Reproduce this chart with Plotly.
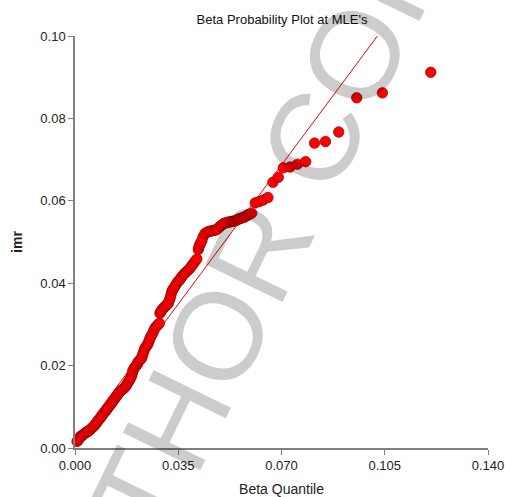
import plotly.graph_objects as go

# ---- data ----
beta_quantile = [
    0.0007, 0.0010, 0.0014, 0.0017, 0.0021, 0.0025, 0.0029, 0.0034, 0.0038, 0.0042,
    0.0046, 0.0051, 0.0055, 0.0059, 0.0063, 0.0068, 0.0072, 0.0076, 0.0080, 0.0085,
    0.0089, 0.0093, 0.0097, 0.0102, 0.0106, 0.0110, 0.0114, 0.0119, 0.0123, 0.0127,
    0.0131, 0.0136, 0.0140, 0.0144, 0.0148, 0.0152, 0.0157, 0.0162, 0.0166, 0.0171,
    0.0175, 0.0179, 0.0183, 0.0187, 0.0190, 0.0193, 0.0195, 0.0197, 0.0201, 0.0205,
    0.0209, 0.0212, 0.0214, 0.0218, 0.0222, 0.0226, 0.0228, 0.0231, 0.0234, 0.0237,
    0.0241, 0.0245, 0.0248, 0.0251, 0.0254, 0.0258, 0.0263, 0.0267, 0.0271, 0.0276,
    0.0281, 0.0286,
    0.0288, 0.0291, 0.0294, 0.0299, 0.0305, 0.0310, 0.0316, 0.0319, 0.0322, 0.0325,
    0.0328, 0.0331, 0.0335, 0.0340, 0.0345, 0.0350, 0.0356, 0.0361, 0.0367, 0.0372,
    0.0378, 0.0384, 0.0390, 0.0395, 0.0401, 0.0407, 0.0413,
    0.0418, 0.0420, 0.0423, 0.0426, 0.0430, 0.0434, 0.0440, 0.0446, 0.0452, 0.0457,
    0.0463, 0.0469, 0.0475, 0.0480, 0.0486, 0.0492, 0.0497, 0.0503, 0.0508, 0.0514,
    0.0520, 0.0525, 0.0531, 0.0537, 0.0542, 0.0548, 0.0553, 0.0559, 0.0565, 0.0571,
    0.0576, 0.0582, 0.0587, 0.0593, 0.0599,
    0.0611, 0.0624, 0.0638, 0.0654, 0.0671, 0.0689,
    0.0706, 0.0729, 0.0754, 0.0782, 0.0812, 0.0849, 0.0894,
    0.0955, 0.1042, 0.1206,
]
imr = [
    0.0016, 0.0019, 0.0022, 0.0027, 0.0029, 0.0031, 0.0033, 0.0036, 0.0038, 0.0040,
    0.0041, 0.0044, 0.0047, 0.0050, 0.0052, 0.0056, 0.0060, 0.0064, 0.0068, 0.0072,
    0.0076, 0.0080, 0.0084, 0.0088, 0.0092, 0.0096, 0.0100, 0.0104, 0.0108, 0.0112,
    0.0116, 0.0121, 0.0125, 0.0129, 0.0133, 0.0137, 0.0140, 0.0143, 0.0145, 0.0149,
    0.0153, 0.0158, 0.0163, 0.0168, 0.0172, 0.0178, 0.0184, 0.0189, 0.0194, 0.0198,
    0.0201, 0.0205, 0.0209, 0.0212, 0.0215, 0.0218, 0.0224, 0.0230, 0.0236, 0.0242,
    0.0246, 0.0250, 0.0254, 0.0260, 0.0266, 0.0272, 0.0278, 0.0285, 0.0291, 0.0295,
    0.0299, 0.0303,
    0.0327, 0.0331, 0.0335, 0.0339, 0.0343, 0.0347, 0.0351, 0.0357, 0.0363, 0.0371,
    0.0379, 0.0384, 0.0388, 0.0394, 0.0400, 0.0405, 0.0409, 0.0415, 0.0420, 0.0424,
    0.0428, 0.0432, 0.0436, 0.0442, 0.0447, 0.0453, 0.0459,
    0.0482, 0.0488, 0.0493, 0.0498, 0.0503, 0.0512, 0.0520, 0.0523, 0.0525, 0.0526,
    0.0527, 0.0528, 0.0529, 0.0530, 0.0534, 0.0538, 0.0541, 0.0544, 0.0546, 0.0547,
    0.0548, 0.0549, 0.0550, 0.0550, 0.0551, 0.0553, 0.0555, 0.0557, 0.0558, 0.0560,
    0.0561, 0.0564, 0.0566, 0.0568, 0.0570,
    0.0595, 0.0598, 0.0602, 0.0608, 0.0645, 0.0657,
    0.0680, 0.0682, 0.0689, 0.0695, 0.0740, 0.0744, 0.0767,
    0.0850, 0.0862, 0.0912,
]

fit_x = [0.0, 0.1025]
fit_y = [0.0012, 0.1000]

x_ticks = [0.000, 0.035, 0.070, 0.105, 0.140]
x_tick_labels = ["0.000", "0.035", "0.070", "0.105", "0.140"]
y_ticks = [0.00, 0.02, 0.04, 0.06, 0.08, 0.10]
y_tick_labels = ["0.00", "0.02", "0.04", "0.06", "0.08", "0.10"]

FONT = "Liberation Sans, Arial, sans-serif"

fig = go.Figure()
fig.add_trace(go.Scatter(
    x=beta_quantile, y=imr, mode="markers",
    marker=dict(size=10.5, color="#ff0000", line=dict(color="#8b0000", width=0.7)),
    cliponaxis=False, showlegend=False,
))
fig.add_trace(go.Scatter(
    x=fit_x, y=fit_y, mode="lines",
    line=dict(color="#ff0000", width=1),
    showlegend=False,
))

axis_common = dict(
    showgrid=False, zeroline=False, showline=True, automargin=False,
    linecolor="#808080", linewidth=1.5,
    ticks="outside", ticklen=5, tickcolor="#808080", tickwidth=1,
    tickfont=dict(family=FONT, size=13, color="#222222"),
)

fig.update_xaxes(range=[0, 0.14], tickvals=x_ticks, ticktext=x_tick_labels,
                 title=dict(text="Beta Quantile", font=dict(family=FONT, size=14, color="#222222"), standoff=14),
                 **axis_common)
fig.update_yaxes(range=[0, 0.10], tickvals=y_ticks, ticktext=y_tick_labels,
                 title=dict(text="<b>imr</b>", font=dict(family=FONT, size=14, color="#222222"), standoff=14),
                 **axis_common)

fig.add_annotation(
    text="AUTHOR COPY", xref="paper", yref="paper", x=0.419, y=0.423,
    xanchor="center", yanchor="middle", showarrow=False, textangle=-64,
    font=dict(family=FONT, size=125, color="rgba(0,0,0,0.2)"),
)

fig.update_layout(
    width=505, height=497, autosize=False,
    margin=dict(l=75, r=17, t=36, b=49),
    paper_bgcolor="white", plot_bgcolor="white",
    title=dict(text="Beta Probability Plot at MLE's", x=0.5584, xanchor="center", y=0.9618, yanchor="middle",
               font=dict(family=FONT, size=13, color="#111111")),
)

# remove the page's default body margin so the 505x497 figure fills the window exactly
fig.write_html(
    "out.html",
    config={"displayModeBar": False},
    post_script="document.body.style.margin='0';document.body.style.overflow='hidden';",
)
